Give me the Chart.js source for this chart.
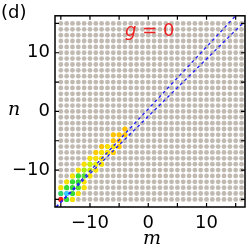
<!DOCTYPE html>
<html>
<head>
<meta charset="utf-8">
<script src="https://cdn.jsdelivr.net/npm/chart.js@4.4.0/dist/chart.umd.min.js"></script>
<style>
html, body { margin: 0; padding: 0; background: #fff; }
canvas { display: block; }
</style>
</head>
<body>
<canvas id="latticeChart" width="249" height="249"></canvas>
<script>
// lattice sites
const mSites = [-15, -14, -13, -12, -11, -10, -9, -8, -7, -6, -5, -4, -3, -2, -1, 0, 1, 2, 3, 4, 5, 6, 7, 8, 9, 10, 11, 12, 13, 14, 15, 16];
const nSites = [-15, -14, -13, -12, -11, -10, -9, -8, -7, -6, -5, -4, -3, -2, -1, 0, 1, 2, 3, 4, 5, 6, 7, 8, 9, 10, 11, 12, 13, 14, 15];

// coloured sites near the diagonal
const activeM = [-15, -14, -13,  -15, -14, -13, -12,  -15, -14, -13, -12, -11,  -14, -13, -12, -11,
                 -13, -12, -11, -10,  -12, -11, -10, -9,  -11, -10, -9, -8,  -10, -9, -8,
                 -9, -8, -7, -6,  -8, -7, -6, -5,  -6, -5,  -6, -5, -4,  -4];
const activeN = [-15, -15, -15,  -14, -14, -14, -14,  -13, -13, -13, -13, -13,  -12, -12, -12, -12,
                 -11, -11, -11, -11,  -10, -10, -10, -10,  -9, -9, -9, -9,  -8, -8, -8,
                 -7, -7, -7, -7,  -6, -6, -6, -6,  -5, -5,  -4, -4, -4,  -3];
const activeColors = ['#ff1a1a', '#33dd33', '#f5e000',
                      '#2fd86a', '#33ccff', '#33dd33', '#f5e000',
                      '#f5e000', '#33dd33', '#33dd33', '#55e030', '#f5e000',
                      '#f5e000', '#33dd33', '#33dd33', '#f5e000',
                      '#f5e000', '#33dd33', '#55e030', '#f5e000',
                      '#f5e000', '#aaee10', '#c8f000', '#f5e000',
                      '#f5e000', '#c8f000', '#e8f000', '#f5e000',
                      '#f5e000', '#f5e000', '#f5e000',
                      '#ffcc00', '#f5e000', '#f5e000', '#ffcc00',
                      '#ffc400', '#f5e000', '#f5e000', '#ffc400',
                      '#ffc400', '#ffc400',
                      '#ffc400', '#ffc400', '#ffc400',
                      '#ffc000'];

// dashed guide lines
const guideA = [{ x: -15.8, y: -16.3 }, { x: 15.0, y: 16.3 }];
const guideB = [{ x: -15.8, y: -16.3 }, { x: 16.6, y: 15.4 }];

const tickValues = [-15, -10, -5, 0, 5, 10, 15];
const tickLabels = { '-10': '\u221210', '0': '0', '10': '10' };

const latticePoints = [];
nSites.forEach(n => mSites.forEach(m => latticePoints.push({ x: m, y: n })));
const activePoints = activeM.map((m, i) => ({ x: m, y: activeN[i] }));

const tickFont = { family: 'DejaVu Sans', size: 18 };

const framePlugin = {
    id: 'frame',
    afterDraw(chart) {
        const ctx = chart.ctx;
        const a = chart.chartArea;
        const xs = chart.scales.x;
        const ys = chart.scales.y;
        ctx.save();
        ctx.strokeStyle = '#000';
        ctx.lineWidth = 1.5;
        ctx.strokeRect(a.left, a.top, a.right - a.left, a.bottom - a.top);
        ctx.lineWidth = 1.2;
        ctx.beginPath();
        tickValues.forEach(v => {
            const px = xs.getPixelForValue(v);
            ctx.moveTo(px, a.bottom); ctx.lineTo(px, a.bottom - 4);
            ctx.moveTo(px, a.top); ctx.lineTo(px, a.top + 4);
            const py = ys.getPixelForValue(v);
            ctx.moveTo(a.left, py); ctx.lineTo(a.left + 4, py);
            ctx.moveTo(a.right, py); ctx.lineTo(a.right - 4, py);
        });
        ctx.stroke();

        ctx.fillStyle = '#000';
        ctx.textBaseline = 'alphabetic';
        ctx.textAlign = 'center';
        ctx.font = 'italic 19px "DejaVu Serif"';
        ctx.fillText('m', (a.left + a.right) / 2 + 2, 244);
        ctx.fillText('n', 14, ys.getPixelForValue(0) + 4);

        ctx.textAlign = 'left';
        ctx.font = '18px "DejaVu Sans"';
        ctx.fillText('(d)', 1, 18);

        ctx.fillStyle = '#ee2222';
        ctx.font = 'italic 18px "DejaVu Sans"';
        ctx.fillText('g', 125, 36);
        const gw = ctx.measureText('g').width;
        ctx.font = '18px "DejaVu Sans"';
        ctx.fillText(' = 0', 125 + gw, 36);
        ctx.restore();
    }
};

new Chart(document.getElementById('latticeChart').getContext('2d'), {
    type: 'scatter',
    data: {
        datasets: [
            {
                type: 'line',
                data: guideA,
                borderColor: '#1c1cff',
                borderWidth: 1.3,
                borderDash: [3, 3],
                pointRadius: 0,
                fill: false,
                order: 0
            },
            {
                type: 'line',
                data: guideB,
                borderColor: '#1c1cff',
                borderWidth: 1.3,
                borderDash: [3, 3],
                pointRadius: 0,
                fill: false,
                order: 0
            },
            {
                data: activePoints,
                pointBackgroundColor: activeColors,
                pointBorderWidth: 0,
                pointRadius: 2.6,
                order: 1
            },
            {
                data: latticePoints,
                pointBackgroundColor: '#c0bab2',
                pointBorderWidth: 0,
                pointRadius: 2.4,
                order: 2
            }
        ]
    },
    options: {
        responsive: false,
        animation: false,
        events: [],
        layout: { padding: { left: 0, right: 2, top: 15, bottom: 0 } },
        plugins: {
            legend: { display: false },
            tooltip: { enabled: false }
        },
        scales: {
            x: {
                type: 'linear',
                min: -16,
                max: 16.6,
                grid: { display: false, drawTicks: false },
                border: { display: false },
                afterBuildTicks: scale => { scale.ticks = tickValues.map(v => ({ value: v })); },
                afterFit: scale => { scale.height = 42; },
                ticks: {
                    padding: 6,
                    maxRotation: 0,
                    autoSkip: false,
                    color: '#000',
                    font: tickFont,
                    callback: v => tickLabels[String(v)] || ''
                }
            },
            y: {
                type: 'linear',
                min: -16.3,
                max: 16.3,
                grid: { display: false, drawTicks: false },
                border: { display: false },
                afterBuildTicks: scale => { scale.ticks = tickValues.map(v => ({ value: v })); },
                afterFit: scale => { scale.width = 55; },
                ticks: {
                    padding: 5,
                    autoSkip: false,
                    color: '#000',
                    font: tickFont,
                    callback: v => tickLabels[String(v)] || ''
                }
            }
        }
    },
    plugins: [framePlugin]
});
</script>
</body>
</html>
